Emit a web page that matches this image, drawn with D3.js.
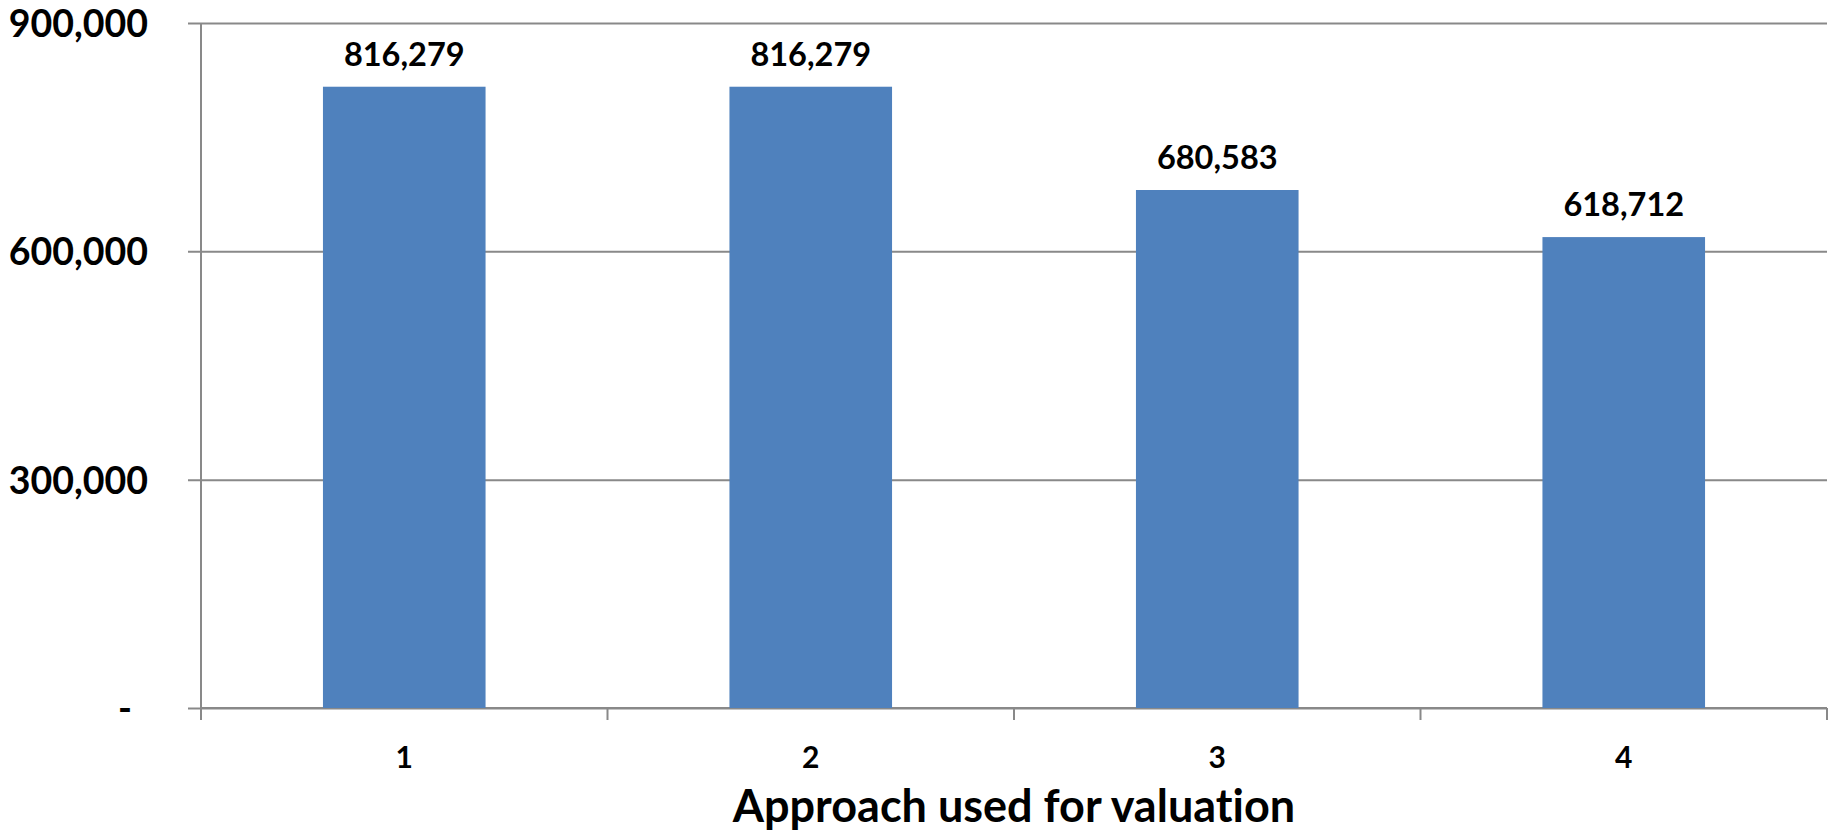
<!DOCTYPE html>
<html>
<head>
<meta charset="utf-8">
<script src="https://cdn.jsdelivr.net/npm/d3@7/dist/d3.min.js"></script>
<style>
  html, body { margin: 0; padding: 0; background: #fff; }
  svg { display: block; }
  text { font-family: Lato, "Open Sans", sans-serif; font-weight: 700; fill: #000; font-variant-ligatures: none; }
</style>
</head>
<body>
<svg id="chart" width="1831" height="833"></svg>
<script>
// Valuation result for each approach
const categories = ["1", "2", "3", "4"];
const values = [816279, 816279, 680583, 618712];
const yTicks = [0, 300000, 600000, 900000];
const xTitle = "Approach used for valuation";

const width = 1831, height = 833;
const margin = { top: 23, right: 4, bottom: 125, left: 201 };
const innerW = width - margin.left - margin.right;
const innerH = height - margin.top - margin.bottom;

const gridColor = "#898989";
const barColor = "#4f81bd";

const svg = d3.select("#chart");
const g = svg.append("g").attr("transform", `translate(${margin.left},${margin.top})`);

const x = d3.scaleBand().domain(categories).range([0, innerW]).paddingInner(0.6).paddingOuter(0.3);
const y = d3.scaleLinear().domain([0, 900000]).range([innerH, 0]);

const fmt = d3.format(",");

// Horizontal gridlines with outward tick marks on the value axis
const yAxis = g.append("g")
  .call(d3.axisLeft(y).tickValues(yTicks).tickSize(-innerW).tickSizeOuter(0)
    .tickFormat(d => d === 0 ? "-" : fmt(d)));
yAxis.select(".domain").remove();
yAxis.selectAll(".tick line")
  .attr("x1", -13)
  .attr("stroke", gridColor)
  .attr("stroke-width", 2);
yAxis.selectAll(".tick text")
  .attr("x", d => d === 0 ? -69 : -53)
  .attr("dy", "0.36em")
  .style("font-size", "37.5px");

// Vertical value-axis line
g.append("line")
  .attr("x1", 0).attr("x2", 0)
  .attr("y1", y(900000)).attr("y2", innerH)
  .attr("stroke", gridColor).attr("stroke-width", 2);

// Category axis: baseline plus tick marks between categories
const edges = d3.range(categories.length + 1).map(i => i * x.step());
const xAxis = g.append("g").attr("transform", `translate(0,${innerH})`);
xAxis.append("line")
  .attr("x1", 0).attr("x2", innerW)
  .attr("stroke", gridColor).attr("stroke-width", 2);
xAxis.selectAll("line.edge")
  .data(edges)
  .join("line")
  .attr("class", "edge")
  .attr("x1", d => d).attr("x2", d => d)
  .attr("y1", 0).attr("y2", 12)
  .attr("stroke", gridColor).attr("stroke-width", 2);
xAxis.selectAll("text.cat")
  .data(categories)
  .join("text")
  .attr("class", "cat")
  .attr("x", d => x(d) + x.bandwidth() / 2)
  .attr("y", 60)
  .attr("text-anchor", "middle")
  .style("font-size", "30px")
  .text(d => d);

// Bars
g.selectAll("rect.bar")
  .data(values)
  .join("rect")
  .attr("class", "bar")
  .attr("x", (d, i) => x(categories[i]))
  .attr("width", x.bandwidth())
  .attr("y", d => y(d))
  .attr("height", d => innerH - y(d))
  .attr("fill", barColor);

// Value labels above bars
g.selectAll("text.val")
  .data(values)
  .join("text")
  .attr("class", "val")
  .attr("x", (d, i) => x(categories[i]) + x.bandwidth() / 2)
  .attr("y", d => y(d) - 21)
  .attr("text-anchor", "middle")
  .style("font-size", "32.5px")
  .text(d => fmt(d));

// Category axis title
g.append("text")
  .attr("x", innerW / 2)
  .attr("y", innerH + 114)
  .attr("text-anchor", "middle")
  .style("font-size", "45px")
  .text(xTitle);
</script>
</body>
</html>
